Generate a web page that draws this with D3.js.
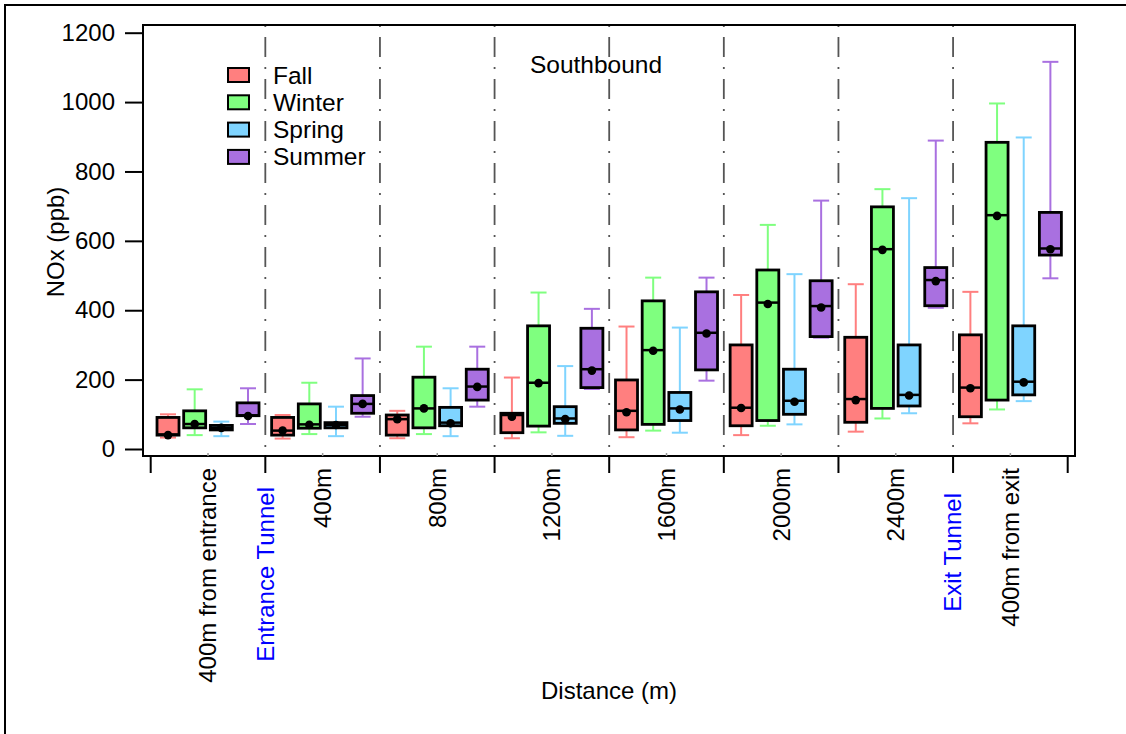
<!DOCTYPE html>
<html>
<head>
<meta charset="utf-8">
<script src="https://cdn.jsdelivr.net/npm/d3@7"></script>
<style>
  body { margin: 0; background: #fff; }
  svg { font-family: "Liberation Sans", Arial, Helvetica, sans-serif; }
</style>
</head>
<body>
<div id="chart"></div>
<script>
// distance groups along the road
var groups = ["400m from entrance", "400m", "800m", "1200m", "1600m", "2000m", "2400m", "400m from exit"];
var seasons = ["Fall", "Winter", "Spring", "Summer"];
var yTicks = [0, 200, 400, 600, 800, 1000, 1200];

// per group: [whisker low, q1, median, q3, whisker high, mean]
var fallStats = [
  [33, 40, 42, 91, 100, 40],
  [30, 40, 53, 91, 98, 53],
  [31, 40, 86, 98, 110, 86],
  [31, 47, 98, 103, 206, 93],
  [34, 55, 110, 199, 353, 106],
  [40, 67, 119, 300, 444, 118],
  [50, 77, 144, 322, 475, 141],
  [74, 93, 177, 329, 453, 175]
];
var winterStats = [
  [40, 61, 72, 110, 172, 72],
  [43, 60, 71, 130, 191, 70],
  [43, 61, 117, 207, 295, 117],
  [48, 66, 191, 355, 451, 190],
  [53, 71, 285, 427, 494, 283],
  [67, 82, 422, 516, 646, 418],
  [88, 117, 576, 698, 749, 574],
  [114, 141, 674, 884, 996, 672]
];
var springStats = [
  [37, 55, 61, 68, 79, 61],
  [37, 61, 69, 76, 122, 69],
  [37, 67, 76, 120, 175, 74],
  [38, 74, 88, 122, 239, 86],
  [47, 82, 117, 163, 350, 114],
  [71, 100, 139, 230, 504, 136],
  [103, 124, 156, 300, 723, 154],
  [138, 156, 194, 355, 898, 192]
];
var summerStats = [
  [72, 96, 97, 133, 175, 95],
  [93, 103, 130, 154, 261, 130],
  [122, 141, 180, 230, 295, 179],
  [173, 177, 230, 348, 404, 226],
  [197, 228, 335, 453, 494, 333],
  [321, 324, 412, 485, 716, 408],
  [407, 413, 487, 523, 889, 484],
  [492, 559, 578, 682, 1116, 576]
];
var seasonColors = ["#ff7f7f", "#7fff7f", "#7fd4ff", "#a970e0"];

var statsBySeason = [fallStats, winterStats, springStats, summerStats];
var boxes = [];
seasons.forEach(function (s, i) {
  statsBySeason[i].forEach(function (r, j) {
    boxes.push({ group: groups[j], season: s, lo: r[0], q1: r[1], med: r[2], q3: r[3], hi: r[4], mean: r[5] });
  });
});

var width = 1126, height = 734;
var svg = d3.select("#chart").append("svg")
  .attr("width", width)
  .attr("height", height);

// outer frame
svg.append("rect")
  .attr("x", 5).attr("y", 5)
  .attr("width", 1140).attr("height", 750)
  .attr("fill", "none").attr("stroke", "#000").attr("stroke-width", 2);

var plot = { left: 143, top: 25, right: 1075, bottom: 456 };

var x = d3.scaleBand().domain(groups).range([150.7, 1067.7]).paddingInner(0).paddingOuter(0);
var inner = d3.scalePoint().domain(seasons).range([-40, 40]);
var y = d3.scaleLinear().domain([0, 1200]).range([449, 32.7]);
var color = d3.scaleOrdinal().domain(seasons).range(seasonColors);

var boxW = 22, capW = 16;

// dash-dot separators
var bounds = groups.map(function (g) { return x(g); }).concat([x.range()[1]]);
svg.selectAll(".sep")
  .data(bounds.slice(1, -1))
  .enter().append("line")
  .attr("class", "sep")
  .attr("x1", function (d) { return d; }).attr("x2", function (d) { return d; })
  .attr("y1", plot.top).attr("y2", plot.bottom)
  .attr("stroke", "#555").attr("stroke-width", 1.8)
  .attr("stroke-dasharray", "2,10,20,10");

// plot frame
svg.append("rect")
  .attr("x", plot.left).attr("y", plot.top)
  .attr("width", plot.right - plot.left).attr("height", plot.bottom - plot.top)
  .attr("fill", "none").attr("stroke", "#000").attr("stroke-width", 2);

// y axis
var yAxis = svg.append("g")
  .attr("transform", "translate(" + plot.left + ",0)")
  .call(d3.axisLeft(y).tickValues(yTicks).tickSize(18).tickPadding(10).tickFormat(d3.format("d")));
yAxis.select(".domain").remove();
yAxis.selectAll(".tick line").attr("stroke-width", 2);
yAxis.selectAll(".tick text").attr("font-size", 24).attr("fill", "#000")
  .attr("font-family", "Liberation Sans, Arial, sans-serif");

// x axis major ticks at boundaries
svg.selectAll(".xmajor")
  .data(bounds)
  .enter().append("line")
  .attr("x1", function (d) { return d; }).attr("x2", function (d) { return d; })
  .attr("y1", plot.bottom).attr("y2", plot.bottom + 17)
  .attr("stroke", "#000").attr("stroke-width", 2);

// minor ticks at group centres
svg.selectAll(".xminor")
  .data(groups)
  .enter().append("line")
  .attr("x1", function (d) { return x(d) + x.bandwidth() / 2; })
  .attr("x2", function (d) { return x(d) + x.bandwidth() / 2; })
  .attr("y1", plot.bottom).attr("y2", plot.bottom - 3)
  .attr("stroke", "#999").attr("stroke-width", 1.5);

// group labels
svg.selectAll(".xlab")
  .data(groups)
  .enter().append("text")
  .attr("transform", function (d) { return "translate(" + (x(d) + x.bandwidth() / 2) + ",468) rotate(-90)"; })
  .attr("text-anchor", "end")
  .attr("dy", "0.35em")
  .attr("font-size", 24)
  .text(function (d) { return d; });

// tunnel markers
svg.append("text")
  .attr("transform", "translate(" + x(groups[1]) + ",487) rotate(-90)")
  .attr("text-anchor", "end").attr("dy", "0.35em")
  .attr("font-size", 24).attr("fill", "#0000ff")
  .text("Entrance Tunnel");
svg.append("text")
  .attr("transform", "translate(" + x(groups[7]) + ",493) rotate(-90)")
  .attr("text-anchor", "end").attr("dy", "0.35em")
  .attr("font-size", 24).attr("fill", "#0000ff")
  .text("Exit Tunnel");

// boxes
var b = svg.selectAll(".box")
  .data(boxes)
  .enter().append("g")
  .attr("class", "box")
  .attr("transform", function (d) { return "translate(" + (x(d.group) + x.bandwidth() / 2 + inner(d.season)) + ",0)"; });

b.append("line")
  .attr("y1", function (d) { return y(d.hi); }).attr("y2", function (d) { return y(d.lo); })
  .attr("stroke", function (d) { return color(d.season); }).attr("stroke-width", 2);
b.append("line")
  .attr("x1", -capW / 2).attr("x2", capW / 2)
  .attr("y1", function (d) { return y(d.hi); }).attr("y2", function (d) { return y(d.hi); })
  .attr("stroke", function (d) { return color(d.season); }).attr("stroke-width", 2);
b.append("line")
  .attr("x1", -capW / 2).attr("x2", capW / 2)
  .attr("y1", function (d) { return y(d.lo); }).attr("y2", function (d) { return y(d.lo); })
  .attr("stroke", function (d) { return color(d.season); }).attr("stroke-width", 2);
b.append("rect")
  .attr("x", -boxW / 2).attr("width", boxW)
  .attr("y", function (d) { return y(d.q3); })
  .attr("height", function (d) { return y(d.q1) - y(d.q3); })
  .attr("fill", function (d) { return color(d.season); })
  .attr("stroke", "#000").attr("stroke-width", 2.8);
b.append("line")
  .attr("x1", -boxW / 2).attr("x2", boxW / 2)
  .attr("y1", function (d) { return y(d.med); }).attr("y2", function (d) { return y(d.med); })
  .attr("stroke", "#000").attr("stroke-width", 2.5);
b.append("circle")
  .attr("cy", function (d) { return y(d.mean); })
  .attr("r", 4.3)
  .attr("fill", "#000");

// legend
var leg = svg.selectAll(".leg")
  .data(seasons)
  .enter().append("g")
  .attr("transform", function (d, i) { return "translate(228," + (75 + i * 27.3) + ")"; });
leg.append("rect")
  .attr("x", 0).attr("y", -7).attr("width", 21).attr("height", 14)
  .attr("fill", function (d) { return color(d); })
  .attr("stroke", "#000").attr("stroke-width", 2);
leg.append("text")
  .attr("x", 45).attr("dy", "0.35em")
  .attr("font-size", 24.5)
  .text(function (d) { return d; });

// titles
svg.append("text")
  .attr("x", 596).attr("y", 73)
  .attr("text-anchor", "middle").attr("font-size", 24.5)
  .text("Southbound");
svg.append("text")
  .attr("x", 609).attr("y", 699)
  .attr("text-anchor", "middle").attr("font-size", 24)
  .text("Distance (m)");
svg.append("text")
  .attr("transform", "translate(64,242) rotate(-90)")
  .attr("text-anchor", "middle").attr("font-size", 24)
  .text("NOx (ppb)");
</script>
</body>
</html>
